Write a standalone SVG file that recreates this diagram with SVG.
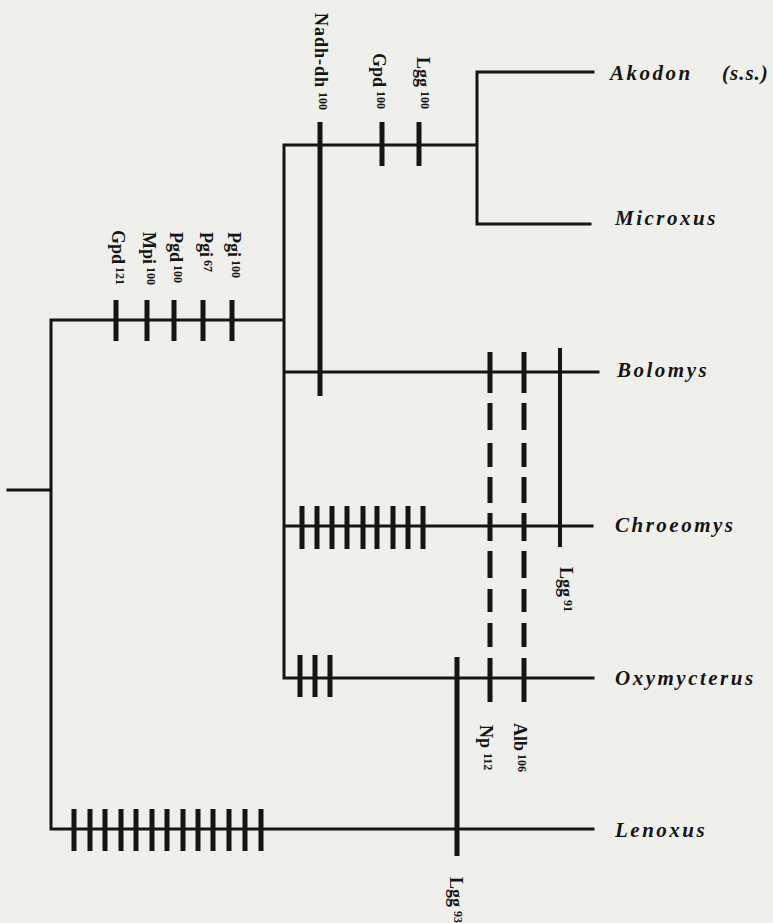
<svg xmlns="http://www.w3.org/2000/svg" width="773" height="923" viewBox="0 0 773 923">
<style>
.ln{stroke:#151515;stroke-width:3;fill:none;stroke-linecap:square}
.tk{stroke:#151515;stroke-width:5;fill:none}
.tk4{stroke:#151515;stroke-width:4;fill:none}
.sp{font-family:'Liberation Serif','DejaVu Serif',serif;font-weight:700;font-style:italic;font-size:21px;letter-spacing:2.5px;fill:#151515}
.gn{font-family:'Liberation Serif','DejaVu Serif',serif;font-weight:700;font-size:18px;fill:#151515}
.sup{font-size:12px}
</style>
<rect width="773" height="923" fill="#efefeb"/>
<g id="connectors">
<path class="ln" d="M8,490H51M51,320V829M51,320H284M51,829H593M284,145V678M284,145H477M477,72V224M477,72H593M477,224H590M284,372H598M284,526H592M284,678H593"/>
</g>
<g id="characters">
<path class="tk" d="M116,300V341M147,300V341M174,300V341M203,300V341M232,300V341"/>
<path class="tk" d="M382,122V166M419,122V166"/>
<path class="tk" d="M320,122V396"/>
<path class="tk" d="M302,506V549M317,506V549M332,506V549M347,506V549M363,506V549M377,506V549M393,506V549M408,506V549M423,506V549"/>
<path class="tk" d="M300,655V697M315,655V697M330,655V697"/>
<path class="tk" d="M74,809V851M90,809V851M105,809V851M121,809V851M136,809V851M152,809V851M167,809V851M183,809V851M198,809V851M213,809V851M229,809V851M245,809V851M261,809V851"/>
<path class="tk" d="M490,352V393M490,403V430M490,443V467M490,477V503M490,513V541M490,551V578M490,589V612M490,623V647M490,658V702"/>
<path class="tk" d="M524,352V393M524,403V430M524,443V467M524,477V503M524,513V541M524,551V578M524,589V612M524,623V647M524,658V702"/>
<path class="tk4" d="M560,348V547"/>
<path class="tk" d="M457,657V856"/>
</g>
<g id="gene-labels">
<text class="gn" transform="translate(315,13) rotate(90)" letter-spacing="1">Nadh-dh<tspan class="sup" dx="4" dy="-4" letter-spacing="0">100</tspan></text>
<text class="gn" transform="translate(373,53) rotate(90)">Gpd<tspan class="sup" dx="4" dy="-4">100</tspan></text>
<text class="gn" transform="translate(417,57) rotate(90)">Lgg<tspan class="sup" dx="4" dy="-4">100</tspan></text>
<text class="gn" transform="translate(112,230) rotate(90)">Gpd<tspan class="sup" dx="3" dy="-4">121</tspan></text>
<text class="gn" transform="translate(143,232) rotate(90)">Mpi<tspan class="sup" dx="3" dy="-4">100</tspan></text>
<text class="gn" transform="translate(170,232) rotate(90)">Pgd<tspan class="sup" dx="3" dy="-4">100</tspan></text>
<text class="gn" transform="translate(200,232) rotate(90)">Pgi<tspan class="sup" dx="3" dy="-4">67</tspan></text>
<text class="gn" transform="translate(228,232) rotate(90)">Pgi<tspan class="sup" dx="3" dy="-4">100</tspan></text>
<text class="gn" transform="translate(560,567) rotate(90)">Lgg<tspan class="sup" dx="3" dy="-4">91</tspan></text>
<text class="gn" transform="translate(480,725) rotate(90)">Np<tspan class="sup" dx="5" dy="-4">112</tspan></text>
<text class="gn" transform="translate(514,723) rotate(90)">Alb<tspan class="sup" dx="3" dy="-4">106</tspan></text>
<text class="gn" transform="translate(450,877) rotate(90)">Lgg<tspan class="sup" dx="4" dy="-4">93</tspan></text>
</g>
<g id="taxon-akodon"><text class="sp" x="610" y="80">Akodon<tspan x="722" letter-spacing="1">(s.s.)</tspan></text></g>
<g id="taxon-microxus"><text class="sp" x="615" y="225">Microxus</text></g>
<g id="taxon-bolomys"><text class="sp" x="617" y="377">Bolomys</text></g>
<g id="taxon-chroeomys"><text class="sp" x="615" y="532">Chroeomys</text></g>
<g id="taxon-oxymycterus"><text class="sp" x="615" y="685">Oxymycterus</text></g>
<g id="taxon-lenoxus"><text class="sp" x="615" y="837">Lenoxus</text></g>
</svg>
